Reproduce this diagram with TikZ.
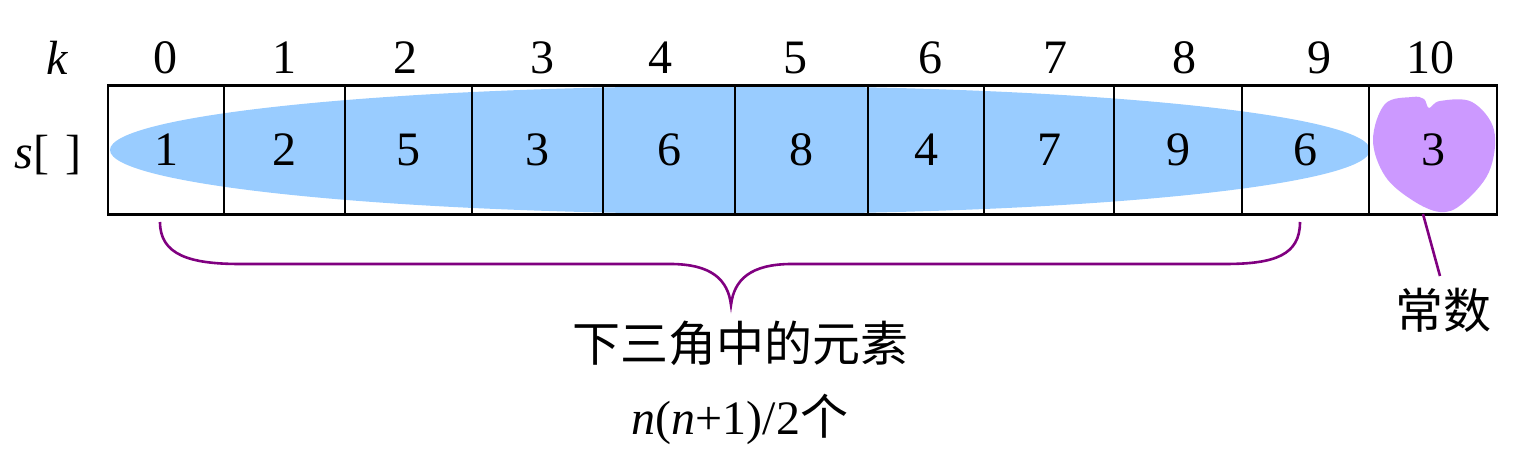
\documentclass[tikz,border=0pt]{standalone}
\usepackage{fontspec}
\setmainfont{Liberation Serif}
\newfontfamily\cjk{Noto Sans CJK SC}
\definecolor{cellblue}{HTML}{99CCFF}
\definecolor{blobpurple}{HTML}{CC99FF}
\definecolor{bracepurple}{HTML}{800080}
\begin{document}
\begin{tikzpicture}[x=0.5pt,y=-0.5pt,
  txt/.style={font=\fontsize{24}{28}\selectfont, inner sep=0pt},
  cellbox/.style={draw=black, line width=1.2pt, minimum height=64.5pt, inner sep=0pt, font=\fontsize{24}{28}\selectfont},
  purpleline/.style={draw=bracepurple, line width=1.3pt}]
\useasboundingbox (0,0) rectangle (1528,475);
% blue ellipse
\fill[cellblue] (740,150) ellipse [x radius=315pt, y radius=32pt];
% purple blob
\fill[blobpurple] plot[smooth cycle, tension=0.6] coordinates {
  (1373,140) (1385,104) (1412,97) (1424,99) (1429,108) (1440,101) (1472,102)
  (1494,130) (1489,172) (1462,204) (1440,212) (1412,200) (1385,176)};
% cells
\foreach \l/\r/\v [count=\i from 0] in {108/224/1,224/345/2,345/472/5,472/603/3,603/735/6,735/868/8,868/984/4,984/1114/7,1114/1242/9,1242/1369/6,1369/1497/3}{
  \pgfmathsetmacro{\cx}{(\l+\r)/2}
  \pgfmathsetmacro{\w}{(\r-\l)*0.5}
  \node[cellbox, minimum width=\w pt] (c\i) at (\cx,150) {\v};
}
% index labels
\foreach \x/\t [count=\i from 0] in {165/0,284/1,405/2,542/3,660/4,795/5,930/6,1055/7,1184/8,1319/9,1430/10}{
  \node[txt] (k\i) at (\x,58) {\t};
}
\node[txt] (klab) at (58,58) {\textit{k}};
\node[txt] (slab) at (48,155) {\textit{s}[\,\,]};
% brace
\coordinate (bl) at (160,222);
\coordinate (br) at (1300,222);
\coordinate (tip) at (731,305);
\draw[purpleline] (bl) .. controls (160,255) and (190,264) .. (240,264) -- (670,264)
  .. controls (712,264) and (728,280) .. (tip)
  .. controls (734,280) and (750,264) .. (792,264) -- (1225,264)
  .. controls (1275,264) and (1300,255) .. (br);
\node[txt, align=center, font=\fontsize{24}{36.5}\selectfont] (lower) at (740,383)
  {{\cjk 下三角中的元素}\\\textit{n}(\textit{n}+1)/2{\cjk 个}};
% constant
\node[txt] (const) at (1443,310) {\cjk 常数};
\coordinate (blobbot) at (1423,214);
\draw[purpleline] (blobbot) -- (1440,276);
\end{tikzpicture}
\end{document}
